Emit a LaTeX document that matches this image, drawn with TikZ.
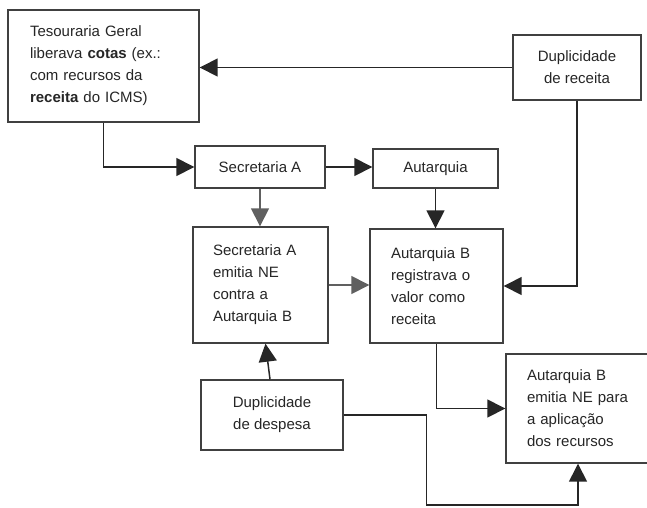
\documentclass[tikz,border=0pt]{standalone}
\usepackage{fontspec}
\setmainfont{Liberation Sans}
\usetikzlibrary{arrows.meta,calc}
\definecolor{ink}{HTML}{262626}
\definecolor{edge}{HTML}{404040}
\definecolor{lightink}{HTML}{606060}
\begin{document}
\begin{tikzpicture}[x=1pt,y=-1pt,
  box/.style={draw=edge,line width=1.4pt,rectangle,text=ink,
    font=\fontsize{15}{22}\selectfont},
  lbox/.style={box,align=left,inner xsep=#1,inner ysep=0pt},
  cbox/.style={box,align=center,inner sep=0pt},
  arr/.style={draw=ink,line width=1.5pt,-{Triangle[length=18pt,width=18pt]}},
  garr/.style={draw=lightink,line width=1.5pt,-{Triangle[length=18pt,width=18pt]}}]
\useasboundingbox (0,0) rectangle (647,507);
\fill[white] (0,0) rectangle (647,507);

\node[lbox=22pt,minimum width=191pt,minimum height=112pt,text width=147pt] (tes) at (103.5,66)
  {Tesouraria Geral\\liberava \textbf{cotas} (ex.:\\com recursos da\\\textbf{receita} do ICMS)};
\node[cbox,minimum width=128pt,minimum height=65pt] (dr) at (577,67.5) {Duplicidade\\de receita};
\node[cbox,minimum width=130pt,minimum height=42pt] (secA) at (260,167) {Secretaria A};
\node[cbox,minimum width=125pt,minimum height=39pt] (aut) at (435.5,168.5) {Autarquia};
\node[lbox=20pt,minimum width=135pt,minimum height=116pt,text width=95pt] (secE) at (260.5,285)
  {Secretaria A\\emitia NE\\contra a\\Autarquia B};
\node[lbox=21pt,minimum width=133pt,minimum height=114pt,text width=91pt] (autB) at (436.5,286)
  {Autarquia B\\registrava o\\valor como\\receita};
\node[cbox,minimum width=142pt,minimum height=70pt] (dd) at (272,415) {Duplicidade\\de despesa};
\node[lbox=21pt,minimum width=144pt,minimum height=109pt,text width=102pt] (ne) at (578,408.5)
  {Autarquia B\\emitia NE para\\a aplicação\\dos recursos};

\draw[arr] (dr.west) -- (dr.west -| tes.east);
\draw[arr] (tes.south) |- (secA.west);
\draw[arr] (secA.east) -- (secA.east -| aut.west);
\draw[garr] (secA.south) -- (secA.south |- secE.north);
\draw[arr] (aut.south) -- (aut.south |- autB.north);
\draw[arr] (dr.south) |- (autB.east);
\draw[garr] (secE.east) -- (secE.east -| autB.west);
\draw[arr] ([xshift=-2pt]dd.north) -- ([xshift=5pt]secE.south);
\draw[arr] (autB.south) |- (ne.west);
\draw[arr] (dd.east) -- ++(83,0) -- ++(0,90) -| (ne.south);
\end{tikzpicture}
\end{document}
